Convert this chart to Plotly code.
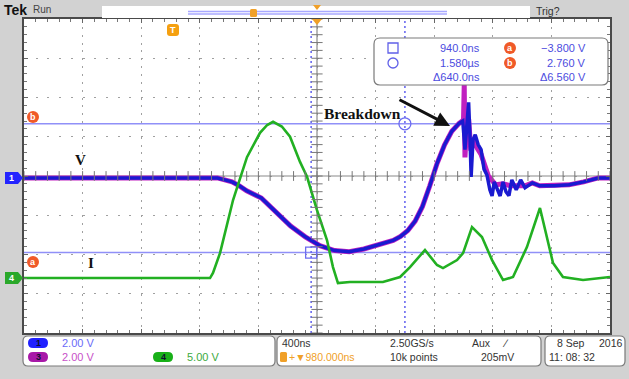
import plotly.graph_objects as go

# ---------------- data ----------------
# time axis in ns (400 ns/div, screen centre = 980 ns after trigger)
t_ch1 = [-1020, -800, -500, -200, 0, 200, 300, 350, 400, 450, 500, 600, 700, 800, 900, 1000,
         1100, 1200, 1300, 1400, 1500, 1550, 1600, 1650, 1700, 1750, 1800, 1850, 1900, 1950, 1975,
         1990, 2005, 2015, 2025, 2032, 2045, 2060, 2080, 2100, 2120, 2140, 2160, 2175, 2190, 2210,
         2230, 2250, 2270, 2290, 2310, 2340, 2370, 2400, 2450, 2500, 2600, 2700, 2800, 2900, 2980]
v_ch1 = [0, 0, 0, 0, 0, 0, 0, -0.10, -0.20, -0.40, -0.65, -1.02, -1.75, -2.45, -3.0, -3.45,
         -3.7, -3.76, -3.62, -3.42, -3.18, -2.98, -2.68, -2.2, -1.45, -0.4, 0.75, 1.68, 2.38, 2.78, 2.9,
         1.45, 3.2, 3.85, 1.95, 0.05, 1.95, 2.2, 1.7, 1.45, 0.45, 0.15, -0.6, -0.92, -0.2, -0.6,
         -0.92, -0.2, -0.7, -0.9, -0.1, -0.6, -0.1, -0.5, -0.25, -0.4, -0.4, -0.35, -0.2, 0, 0]

t_ch3 = [-1020, -800, -500, -200, 0, 200, 300, 350, 400, 450, 500, 600, 700, 800, 900, 1000,
         1100, 1200, 1300, 1400, 1500, 1550, 1600, 1650, 1700, 1750, 1800, 1850, 1900, 1950, 1975,
         1980, 1985, 1990, 2000, 2015, 2030, 2050, 2075, 2100, 2150, 2200, 2250, 2300, 2400, 2450,
         2500, 2600, 2700, 2800, 2900, 2980]
v_ch3 = [0, 0, 0, 0, 0, 0, 0, -0.10, -0.20, -0.40, -0.65, -1.02, -1.75, -2.45, -3.0, -3.45,
         -3.7, -3.76, -3.62, -3.42, -3.18, -2.98, -2.68, -2.2, -1.45, -0.4, 0.75, 1.68, 2.38, 2.78, 2.9,
         2.95, 4.75, 1.05, 2.45, 3.0, 1.4, 1.9, 1.5, 1.2, 0.1, -0.35, -0.3, -0.4, -0.4, -0.25,
         -0.4, -0.4, -0.35, -0.2, 0, 0]

t_ch4 = [-1020, -500, 0, 250, 270, 318, 407, 502, 591, 640, 680, 740, 796, 864, 912, 980, 1048,
         1089, 1123, 1205, 1430, 1547, 1615, 1717, 1799, 1840, 1936, 1977, 2038, 2106, 2175, 2250,
         2318, 2413, 2502, 2591, 2659, 2796, 2980]
v_ch4 = [0, 0, 0, 0, 0.64, 3.18, 9.94, 15.4, 18.5, 19.5, 19.9, 19.3, 18.0, 14.8, 12.9, 8.66, 4.84,
         1.40, -0.64, -0.51, -0.51, 0.13, 1.40, 3.57, 1.66, 1.27, 2.29, 3.18, 6.5, 5.22, 2.29, -0.25,
         0.13, 3.95, 8.92, 1.91, 0.13, -0.25, 0.13]

ch_scale = {"1": 2.0, "3": 2.0, "4": 5.0}      # V/div
ch_pos = {"1": -0.05, "3": -0.05, "4": -2.6}    # ground position, div
cursor_t = [940, 1580]                          # ns
cursor_v = [-3.800, 2.760]                      # V (ch1)

readout_left = ["940.0ns", "1.580µs", "Δ640.0ns"]
readout_right = ["−3.800 V", "2.760 V", "Δ6.560 V"]

# ---------------- geometry helpers ----------------
W, H = 629, 379
GX0, GX1, GY0, GY1 = 24, 610, 19, 333
XMIN, XMAX = -1020, 2980


def X(px):
    return (px - GX0) / (GX1 - GX0)


def Y(py):
    return (GY1 - py) / (GY1 - GY0)


def rrect(x0, y0, x1, y1, r):
    p = [("M", x0 + r, y0), ("L", x1 - r, y0), ("Q", x1, y0, x1, y0 + r), ("L", x1, y1 - r),
         ("Q", x1, y1, x1 - r, y1), ("L", x0 + r, y1), ("Q", x0, y1, x0, y1 - r),
         ("L", x0, y0 + r), ("Q", x0, y0, x0 + r, y0)]
    s = ""
    for seg in p:
        cmd = seg[0]
        vals = seg[1:]
        pts = []
        for i in range(0, len(vals), 2):
            pts.append(f"{X(vals[i]):.5f},{Y(vals[i + 1]):.5f}")
        s += cmd + " " + " ".join(pts) + " "
    return s + "Z"


def poly(points):
    return "M " + " L ".join(f"{X(a):.5f},{Y(b):.5f}" for a, b in points) + " Z"


def to_div(vals, ch):
    return [v / ch_scale[ch] + ch_pos[ch] for v in vals]


shapes = []
ann = []


def text(px, py, s, size=11, color="#333", xanchor="left", bold=False, family="Liberation Sans"):
    ann.append(dict(x=X(px), y=Y(py), xref="paper", yref="paper", text=f"<b>{s}</b>" if bold else s,
                    showarrow=False, xanchor=xanchor, yanchor="middle",
                    font=dict(size=size, color=color, family=family)))


fig = go.Figure()

# ---------------- traces ----------------
fig.add_trace(go.Scatter(x=t_ch3, y=to_div(v_ch3, "3"), mode="lines",
                         line=dict(color="#c020c0", width=5), hoverinfo="skip"))
fig.add_trace(go.Scatter(x=t_ch1, y=to_div(v_ch1, "1"), mode="lines",
                         line=dict(color="#1a1ad0", width=3.5), hoverinfo="skip"))
fig.add_trace(go.Scatter(x=t_ch4, y=to_div(v_ch4, "4"), mode="lines",
                         line=dict(color="#22b022", width=2.6), hoverinfo="skip"))

# centre crosshair ticks
xc = (XMIN + XMAX) / 2
fig.add_trace(go.Scatter(x=[XMIN + 80 * k for k in range(51)], y=[0] * 51, mode="markers",
                         marker=dict(symbol="line-ns", size=7, color="#777", line=dict(color="#777", width=1)),
                         hoverinfo="skip"))
fig.add_trace(go.Scatter(x=[xc] * 41, y=[-4 + 0.2 * k for k in range(41)], mode="markers",
                         marker=dict(symbol="line-ew", size=8, color="#777", line=dict(color="#777", width=1)),
                         hoverinfo="skip"))

# cursor markers
ca = cursor_v[0] / ch_scale["1"] + ch_pos["1"]
cb = cursor_v[1] / ch_scale["1"] + ch_pos["1"]
cur_col = "#6c6cf0"
fig.add_trace(go.Scatter(x=[cursor_t[0]], y=[ca], mode="markers",
                         marker=dict(symbol="square-open", size=11, color=cur_col,
                                     line=dict(color=cur_col, width=1.3)),
                         hoverinfo="skip"))
fig.add_trace(go.Scatter(x=[cursor_t[1]], y=[cb], mode="markers",
                         marker=dict(symbol="circle-open", size=12, color=cur_col,
                                     line=dict(color=cur_col, width=1.3)),
                         hoverinfo="skip"))

# centre lines and cursors
shapes.append(dict(type="line", xref="x", yref="y", x0=xc, x1=xc, y0=-4, y1=4,
                   line=dict(color="#8a8a8a", width=1.2), layer="between"))
shapes.append(dict(type="line", xref="x", yref="y", x0=XMIN, x1=XMAX, y0=0, y1=0,
                   line=dict(color="#8a8a8a", width=1.2), layer="between"))
for lv in (ca, cb):
    shapes.append(dict(type="line", xref="x", yref="y", x0=XMIN, x1=XMAX, y0=lv, y1=lv,
                       line=dict(color="#9090f8", width=1.6), layer="between"))
for tc in cursor_t:
    shapes.append(dict(type="line", xref="x", yref="y", x0=tc, x1=tc, y0=-4, y1=4,
                       line=dict(color="#6a6af0", width=1.6, dash="2px,3px"), layer="between"))

# ---------------- top bar ----------------
shapes.append(dict(type="rect", xref="paper", yref="paper", x0=X(102), x1=X(530), y0=Y(18), y1=Y(6),
                   fillcolor="white", line=dict(width=0), layer="above"))
shapes.append(dict(type="line", xref="paper", yref="paper", x0=X(188), x1=X(447), y0=Y(11.5), y1=Y(11.5),
                   line=dict(color="#a8a8ff", width=1.5)))
shapes.append(dict(type="line", xref="paper", yref="paper", x0=X(188), x1=X(447), y0=Y(14), y1=Y(14),
                   line=dict(color="#a8a8ff", width=1.5)))
shapes.append(dict(type="path", xref="paper", yref="paper", path=rrect(250, 9, 257, 17, 1.5),
                   fillcolor="#f0a028", line=dict(width=0)))
shapes.append(dict(type="path", xref="paper", yref="paper", path=poly([(313, 5), (321, 5), (317, 10)]),
                   fillcolor="#f0a028", line=dict(width=0)))
shapes.append(dict(type="path", xref="paper", yref="paper", path=poly([(312, 19), (322, 19), (317, 25)]),
                   fillcolor="#f0a028", line=dict(width=0)))
text(2, 10, "Tek", size=14, color="#111", bold=True)
text(31, 10, "Run", size=10, color="#444")
text(534, 11, "Trig?", size=10.5, color="#333")

# top trigger-position marker
shapes.append(dict(type="path", xref="paper", yref="paper", path=rrect(167, 24, 179, 36, 3),
                   fillcolor="#f5a010", line=dict(width=0)))
text(173, 30, "T", size=9, color="white", xanchor="center", bold=True)

# ---------------- left markers ----------------
shapes.append(dict(type="path", xref="paper", yref="paper",
                   path=poly([(5, 172), (18, 172), (23, 178), (18, 184), (5, 184)]),
                   fillcolor="#2424ff", line=dict(width=0)))
text(11.5, 178, "1", size=9, color="white", xanchor="center", bold=True)
shapes.append(dict(type="path", xref="paper", yref="paper",
                   path=poly([(5, 272), (18, 272), (23, 278), (18, 284), (5, 284)]),
                   fillcolor="#2aa82a", line=dict(width=0)))
text(11.5, 278, "4", size=9, color="white", xanchor="center", bold=True)
for (cx, cy, lab) in [(33, 117, "b"), (33, 262, "a")]:
    shapes.append(dict(type="circle", xref="paper", yref="paper", x0=X(cx - 6), x1=X(cx + 6),
                       y0=Y(cy + 6), y1=Y(cy - 6), fillcolor="#f05a28", line=dict(width=0)))
    text(cx, cy, lab, size=9, color="white", xanchor="center", bold=True)

# ---------------- measurement readout ----------------
shapes.append(dict(type="path", xref="paper", yref="paper", path=rrect(374, 38, 608, 85, 6),
                   fillcolor="white", line=dict(color="#7a7a7a", width=1.2)))
shapes.append(dict(type="rect", xref="paper", yref="paper", x0=X(388), x1=X(398), y0=Y(53), y1=Y(43),
                   line=dict(color="#6060e8", width=1.3)))
shapes.append(dict(type="circle", xref="paper", yref="paper", x0=X(388), x1=X(398), y0=Y(68), y1=Y(58),
                   line=dict(color="#6060e8", width=1.3)))
for i, s in enumerate(readout_left):
    text(482, 48 + 14.5 * i, s, size=11, color="#4c4ce0", xanchor="right")
for i, s in enumerate(readout_right):
    text(588, 48 + 14.5 * i, s, size=11, color="#4c4ce0", xanchor="right")
for (cy, lab) in [(48, "a"), (63, "b")]:
    shapes.append(dict(type="circle", xref="paper", yref="paper", x0=X(504), x1=X(516),
                       y0=Y(cy + 6), y1=Y(cy - 6), fillcolor="#f05a28", line=dict(width=0)))
    text(510, cy, lab, size=9, color="white", xanchor="center", bold=True)

# ---------------- bottom status bar ----------------
for (a, b) in [(23, 275), (277, 541), (545, 625)]:
    shapes.append(dict(type="path", xref="paper", yref="paper", path=rrect(a, 336, b, 366, 5),
                       fillcolor="white", line=dict(color="#7a7a7a", width=1.2)))
for (x0, y0, col, lab) in [(28, 338, "#2020ff", "1"), (28, 352, "#a818a8", "3"), (153, 352, "#18b018", "4")]:
    shapes.append(dict(type="path", xref="paper", yref="paper", path=rrect(x0, y0, x0 + 20, y0 + 10, 5),
                       fillcolor=col, line=dict(width=0)))
    text(x0 + 10, y0 + 5, lab, size=9, color="#101030", xanchor="center", bold=True)
text(60, 343, "2.00 V", size=11, color="#6a6af8")
text(60, 357, "2.00 V", size=11, color="#c850c8")
text(185, 357, "5.00 V", size=11, color="#3caa3c")
text(280, 343, "400ns", size=10.5, color="#333")
shapes.append(dict(type="path", xref="paper", yref="paper", path=rrect(280, 352, 287, 362, 1.5),
                   fillcolor="#f0a028", line=dict(width=0)))
text(287, 357, "+▼980.000ns", size=10.5, color="#f0a028")
text(388, 343, "2.50GS/s", size=10.5, color="#333")
text(388, 357, "10k points", size=10.5, color="#333")
text(470, 343, "Aux", size=10.5, color="#333")
text(500, 343, "∕", size=11, color="#333")
text(516, 357, "205mV", size=10.5, color="#333", xanchor="right")
text(555, 343, "8 Sep", size=10.5, color="#333")
text(625, 343, "2016", size=10.5, color="#333", xanchor="right")
text(547, 357, "11: 08: 32", size=10.5, color="#333")

# ---------------- figure labels ----------------
text(80, 160, "V", size=15, color="#111", xanchor="center", bold=True, family="Liberation Serif")
text(91, 263, "I", size=15, color="#111", xanchor="center", bold=True, family="Liberation Serif")
text(362, 113, "Breakdown", size=15.5, color="#111", xanchor="center", bold=True, family="Liberation Serif")
ann.append(dict(x=X(450), y=Y(126), xref="paper", yref="paper", ax=-52, ay=-27, text="",
                showarrow=True, arrowhead=2, arrowsize=1, arrowwidth=3, arrowcolor="#111"))

fig.update_layout(
    width=W, height=H, margin=dict(l=GX0, r=W - GX1, t=GY0, b=H - GY1),
    paper_bgcolor="#d2d2d2", plot_bgcolor="white", showlegend=False,
    shapes=shapes, annotations=ann,
    xaxis=dict(range=[XMIN, XMAX], tick0=XMIN, dtick=400, showgrid=True, gridcolor="#a0a0a0",
               griddash="2px,5.85px", gridwidth=1, ticks="inside", ticklen=4, tickcolor="#666",
               showticklabels=False, showline=True, linecolor="#4a4a4a", linewidth=2,
               mirror="allticks", zeroline=False, fixedrange=True,
               minor=dict(tick0=XMIN, dtick=80, ticks="inside", ticklen=3, tickcolor="#777",
                          showgrid=False)),
    yaxis=dict(range=[-4, 4], tick0=-4, dtick=1, showgrid=True, gridcolor="#a0a0a0",
               griddash="2px,9.72px", gridwidth=1, ticks="inside", ticklen=4, tickcolor="#666",
               showticklabels=False, showline=True, linecolor="#4a4a4a", linewidth=2,
               mirror="allticks", zeroline=False, fixedrange=True,
               minor=dict(tick0=-4, dtick=0.2, ticks="inside", ticklen=3, tickcolor="#777",
                          showgrid=False)),
)

fig.write_html("out.html")
